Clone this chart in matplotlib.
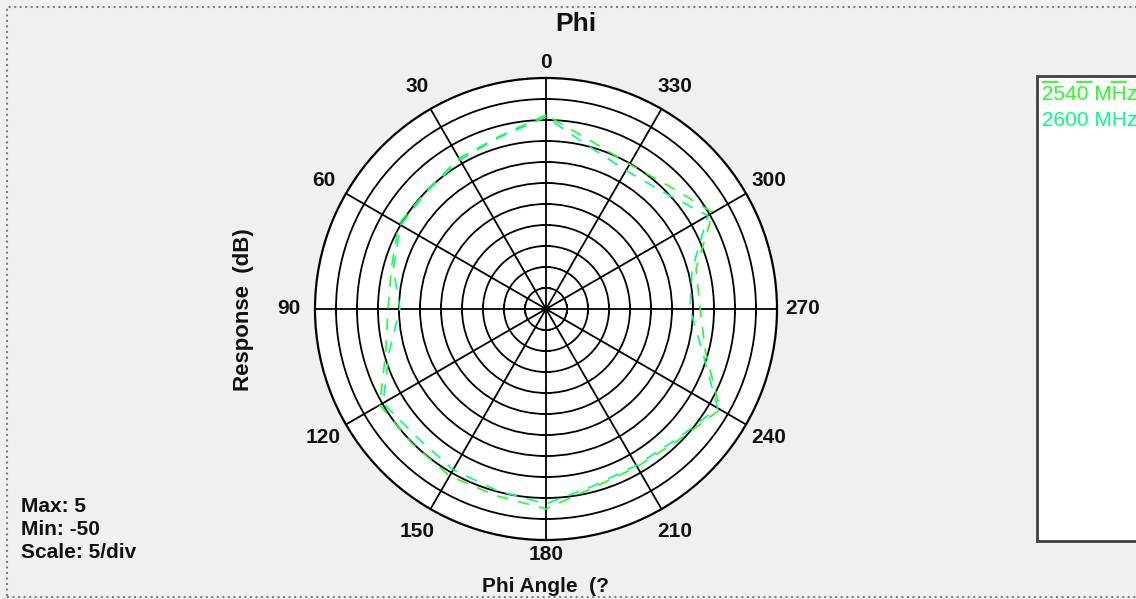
import numpy as np
import matplotlib
matplotlib.use("Agg")
import matplotlib.pyplot as plt
from matplotlib.patches import Rectangle
from matplotlib.lines import Line2D

# ---------------- data ----------------
angles_deg = [0, 15, 30, 45, 60, 75, 90, 105, 120, 135, 150, 165,
              180, 195, 210, 225, 240, 255, 270, 285, 300, 315, 330, 345]
resp_2540 = [-3.8, -7.4, -8.6, -10.0, -9.5, -11.9, -12.4, -10.5, -4.3, -4.8, -4.1, -4.0,
             -2.4, -6.0, -6.6, -5.7, -2.1, -10.7, -13.3, -13.0, -4.1, -8.6, -10.2, -8.6]
resp_2600 = [-4.3, -7.6, -9.0, -10.2, -10.0, -12.4, -15.2, -11.4, -5.2, -6.7, -5.8, -5.2,
             -3.6, -6.4, -7.0, -6.1, -2.8, -11.5, -15.7, -14.0, -5.5, -10.6, -11.9, -10.0]
series_names = ["2540 MHz", "2600 MHz"]
series_colors = ["#22ff22", "#00ff88"]
angle_labels = [0, 30, 60, 90, 120, 150, 180, 210, 240, 270, 300, 330]
r_max, r_min, r_step = 5, -50, 5

# ---------------- figure ----------------
W, H = 1136, 599
fig = plt.figure(figsize=(W / 100, H / 100), dpi=100, facecolor="#f0f0f0")
FONT = "Liberation Sans"
TXT = "#111111"

# dotted outer frame
fig.patches.append(Rectangle((7 / W, 1 - 597 / H), (1140 - 7) / W, (597 - 7) / H,
                             transform=fig.transFigure, fill=False,
                             edgecolor="#808080", lw=1.5, ls=":", zorder=0))

cx, cy, R = 546, 309, 231
ax = fig.add_axes([(cx - R) / W, 1 - (cy + R) / H, 2 * R / W, 2 * R / H],
                  projection="polar")
ax.set_facecolor("white")
ax.set_theta_zero_location("N")
ax.set_theta_direction(1)
ax.set_ylim(r_min, r_max)
ax.set_yticks(np.arange(r_min + r_step, r_max, r_step))
ax.set_yticklabels([])
ax.set_xticks(np.deg2rad(angle_labels))
ax.set_xticklabels([])
ax.tick_params(length=0)
ax.grid(True, color="black", lw=1.3)
ax.spines["polar"].set_linewidth(1.6)
ax.spines["polar"].set_color("black")

# small tick marks along the main axes lines
ring_vals = np.arange(r_min + r_step, r_max + 0.1, r_step)
for a, m in [(0, "_"), (180, "_"), (90, "|"), (270, "|")]:
    ax.plot(np.full(len(ring_vals), np.deg2rad(a)), ring_vals, ls="none",
            marker=m, ms=7, mew=1.2, color="black", clip_on=False, zorder=3)

# data
theta = np.deg2rad(angles_deg + [angles_deg[0]])
for vals, col in [(resp_2540, series_colors[0]), (resp_2600, series_colors[1])]:
    ax.plot(theta, vals + [vals[0]], color=col, lw=1.2, dashes=(7, 6), zorder=4)

# angle labels
px_per_db = R / (r_max - r_min)
for a in angle_labels:
    px = 246 if a in (0, 180) else 257
    ax.text(np.deg2rad(a), r_min + px / px_per_db, str(a), ha="center",
            va="center", fontsize=15, fontweight="bold", family=FONT,
            color=TXT, clip_on=False)

# titles
fig.text(576 / W, 1 - 24 / H, "Phi", ha="center", va="center", fontsize=19,
         fontweight="bold", family=FONT, color=TXT)
fig.text(243 / W, 1 - 310 / H, "Response  (dB)", ha="center", va="center",
         rotation=90, fontsize=16, fontweight="bold", family=FONT, color=TXT)
fig.text(545 / W, 1 - 586 / H, "Phi Angle  (?", ha="center", va="center",
         fontsize=15, fontweight="bold", family=FONT, color=TXT)

# scale info
info = [f"Max: {r_max}", f"Min: {r_min}", f"Scale: {r_step}/div"]
for i, s in enumerate(info):
    fig.text(21 / W, 1 - (506 + 23.5 * i) / H, s, ha="left", va="center",
             fontsize=15, fontweight="bold", family=FONT, color=TXT)

# legend box
fig.patches.append(Rectangle((1037 / W, 1 - 541 / H), (1145 - 1037) / W, (541 - 76) / H,
                             transform=fig.transFigure, facecolor="white",
                             edgecolor="#404040", lw=2, zorder=1))
fig.lines.append(Line2D([1042 / W, 1140 / W], [1 - 82 / H, 1 - 82 / H],
                        transform=fig.transFigure, color=series_colors[0],
                        lw=1.3, dashes=(9, 10), zorder=2))
for i, (name, col) in enumerate(zip(series_names, series_colors)):
    fig.text(1042 / W, 1 - (95 + 26 * i) / H, name, ha="left", va="center",
             fontsize=15, family=FONT, color=col, zorder=3)

fig.savefig("out.png", dpi=100, facecolor=fig.get_facecolor())
